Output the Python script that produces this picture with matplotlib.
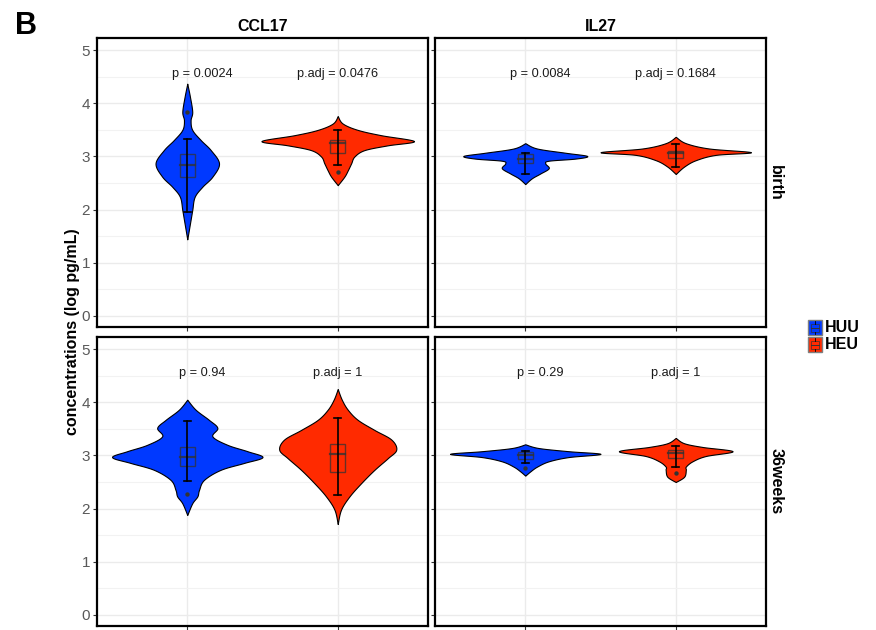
import numpy as np
import matplotlib
matplotlib.use("Agg")
import matplotlib.pyplot as plt
from matplotlib.patches import Rectangle

plt.rcParams["font.family"] = ["Liberation Sans", "DejaVu Sans"]

groups = ["HUU", "HEU"]
colors = {"HUU": "#0039FF", "HEU": "#FF2A00"}
analytes = ["CCL17", "IL27"]
timepoints = ["birth", "36weeks"]

# violin outlines: y (log pg/mL) and half-width (x units), bottom tip to top tip
violin_y = {
    ("CCL17", "birth", "HUU"): [1.44, 1.74, 1.99, 2.24, 2.43, 2.62, 2.87, 3.12, 3.31, 3.50, 3.68, 3.84, 4.12, 4.37],
    ("CCL17", "birth", "HEU"): [2.46, 2.62, 2.74, 2.87, 3.00, 3.12, 3.21, 3.29, 3.40, 3.50, 3.62, 3.76],
    ("IL27", "birth", "HUU"): [2.48, 2.59, 2.68, 2.78, 2.87, 2.92, 2.96, 3.01, 3.07, 3.15, 3.25],
    ("IL27", "birth", "HEU"): [2.67, 2.81, 2.93, 3.03, 3.08, 3.15, 3.25, 3.37],
    ("CCL17", "36weeks", "HUU"): [1.88, 2.10, 2.23, 2.35, 2.54, 2.73, 2.86, 2.97, 3.08, 3.20, 3.36, 3.52, 3.67, 3.86, 4.05],
    ("CCL17", "36weeks", "HEU"): [1.71, 1.98, 2.23, 2.48, 2.73, 2.95, 3.11, 3.30, 3.48, 3.67, 3.86, 4.05, 4.25],
    ("IL27", "36weeks", "HUU"): [2.62, 2.70, 2.79, 2.89, 2.97, 3.03, 3.08, 3.14, 3.21],
    ("IL27", "36weeks", "HEU"): [2.50, 2.60, 2.73, 2.79, 2.89, 2.99, 3.08, 3.16, 3.23, 3.33],
}
violin_w = {
    ("CCL17", "birth", "HUU"): [0.0, 0.018, 0.033, 0.049, 0.10, 0.167, 0.211, 0.156, 0.089, 0.033, 0.022, 0.033, 0.018, 0.0],
    ("CCL17", "birth", "HEU"): [0.0, 0.044, 0.067, 0.089, 0.111, 0.178, 0.333, 0.507, 0.289, 0.133, 0.033, 0.0],
    ("IL27", "birth", "HUU"): [0.0, 0.044, 0.10, 0.156, 0.133, 0.156, 0.333, 0.411, 0.267, 0.078, 0.0],
    ("IL27", "birth", "HEU"): [0.0, 0.056, 0.133, 0.267, 0.50, 0.222, 0.067, 0.0],
    ("CCL17", "36weeks", "HUU"): [0.0, 0.033, 0.067, 0.078, 0.111, 0.222, 0.378, 0.50, 0.40, 0.267, 0.167, 0.20, 0.144, 0.056, 0.0],
    ("CCL17", "36weeks", "HEU"): [0.0, 0.022, 0.078, 0.156, 0.244, 0.333, 0.389, 0.356, 0.244, 0.133, 0.067, 0.027, 0.0],
    ("IL27", "36weeks", "HUU"): [0.0, 0.033, 0.078, 0.156, 0.289, 0.50, 0.289, 0.089, 0.0],
    ("IL27", "36weeks", "HEU"): [0.0, 0.056, 0.067, 0.067, 0.111, 0.20, 0.378, 0.178, 0.056, 0.0],
}

# box summaries: lower whisker, q1, median, q3, upper whisker
box_stats = {
    ("CCL17", "birth", "HUU"): [1.96, 2.62, 2.84, 3.05, 3.33],
    ("CCL17", "birth", "HEU"): [2.84, 3.07, 3.26, 3.31, 3.50],
    ("IL27", "birth", "HUU"): [2.67, 2.87, 2.96, 3.04, 3.06],
    ("IL27", "birth", "HEU"): [2.81, 2.97, 3.06, 3.10, 3.23],
    ("CCL17", "36weeks", "HUU"): [2.52, 2.81, 2.98, 3.16, 3.65],
    ("CCL17", "36weeks", "HEU"): [2.25, 2.69, 3.03, 3.21, 3.70],
    ("IL27", "36weeks", "HUU"): [2.86, 2.93, 3.01, 3.06, 3.08],
    ("IL27", "36weeks", "HEU"): [2.79, 2.96, 3.05, 3.11, 3.17],
}
outliers = {
    ("CCL17", "birth", "HUU"): [3.84],
    ("CCL17", "birth", "HEU"): [2.71],
    ("CCL17", "36weeks", "HUU"): [2.27],
    ("IL27", "36weeks", "HUU"): [2.76],
    ("IL27", "36weeks", "HEU"): [2.67],
}

p_labels = {
    ("CCL17", "birth"): ["p = 0.0024", "p.adj = 0.0476"],
    ("IL27", "birth"): ["p = 0.0084", "p.adj = 0.1684"],
    ("CCL17", "36weeks"): ["p = 0.94", "p.adj = 1"],
    ("IL27", "36weeks"): ["p = 0.29", "p.adj = 1"],
}


def smooth_outline(y, w, n=12):
    # Catmull-Rom through the outline knots
    pts = np.column_stack([y, w])
    pts = np.vstack([pts[0], pts, pts[-1]])
    out = []
    for i in range(1, len(pts) - 2):
        p0, p1, p2, p3 = pts[i - 1], pts[i], pts[i + 1], pts[i + 2]
        t = np.linspace(0, 1, n, endpoint=False)[:, None]
        seg = 0.5 * ((2 * p1) + (-p0 + p2) * t + (2 * p0 - 5 * p1 + 4 * p2 - p3) * t ** 2
                     + (-p0 + 3 * p1 - 3 * p2 + p3) * t ** 3)
        out.append(seg)
    out.append(pts[-2][None, :])
    out = np.vstack(out)
    return out[:, 0], np.clip(out[:, 1], 0, None)


W, H = 876, 630
fig = plt.figure(figsize=(W / 100, H / 100), dpi=100)

col_x = [97, 435]
col_w = 331
row_y = [38, 337]
row_h = 289

for r, tp in enumerate(timepoints):
    for c, an in enumerate(analytes):
        ax = fig.add_axes([col_x[c] / W, 1 - (row_y[r] + row_h) / H, col_w / W, row_h / H])
        ax.set_xlim(0.4, 2.6)
        ax.set_ylim(-0.21, 5.23)
        ax.set_yticks(range(6))
        ax.set_yticks(np.arange(0.5, 5.5, 1.0), minor=True)
        ax.set_xticks([1, 2])
        ax.set_xticklabels([])
        ax.grid(which="major", color="#ebebeb", lw=1.0, zorder=0)
        ax.grid(which="minor", axis="y", color="#f2f2f2", lw=0.8, zorder=0)
        ax.set_axisbelow(True)
        ax.tick_params(axis="both", which="major", length=3, color="#333333",
                       labelsize=11, labelcolor="#595959", pad=2)
        ax.tick_params(which="minor", length=0)
        if c == 1:
            ax.set_yticklabels([])
        for s in ax.spines.values():
            s.set_linewidth(1.6)
            s.set_color("black")

        for i, g in enumerate(groups):
            key = (an, tp, g)
            x0 = i + 1
            yy, ww = smooth_outline(violin_y[key], violin_w[key])
            ax.fill_betweenx(yy, x0 - ww, x0 + ww, facecolor=colors[g],
                             edgecolor="black", lw=0.8, zorder=2)
            lo, q1, med, q3, hi = box_stats[key]
            ax.add_patch(Rectangle((x0 - 0.05, q1), 0.1, q3 - q1, facecolor="none",
                                   edgecolor="#333333", lw=1.0, alpha=0.75, zorder=3))
            ax.plot([x0 - 0.05, x0 + 0.05], [med, med], color="#333333", lw=1.6,
                    alpha=0.8, zorder=3)
            ax.plot([x0, x0], [lo, hi], color="black", lw=1.2, zorder=4)
            for v in (lo, hi):
                ax.plot([x0 - 0.022, x0 + 0.022], [v, v], color="black", lw=1.2, zorder=4)
            if key in outliers:
                ax.scatter([x0] * len(outliers[key]), outliers[key], s=10,
                           color="#333333", zorder=5, linewidths=0)

        lp, la = p_labels[(an, tp)]
        ax.text(1.1, 4.56, lp, ha="center", va="center", fontsize=9.2, color="#1a1a1a")
        ax.text(2.0, 4.56, la, ha="center", va="center", fontsize=9.2, color="#1a1a1a")

        if r == 0:
            ax.set_title(an, fontsize=11.5, fontweight="bold", pad=5)
        if c == 1:
            ax.text(1.03, 0.5, tp, transform=ax.transAxes, rotation=-90, ha="center",
                    va="center", fontsize=11.5, fontweight="bold")

fig.text(72 / W, 1 - 332 / H, "concentrations (log pg/mL)", rotation=90, ha="center",
         va="center", fontsize=11.5, fontweight="bold")
fig.text(26 / W, 1 - 26 / H, "B", ha="center", va="center", fontsize=22, fontweight="bold")

# legend keys drawn as small boxplot glyphs
leg = fig.add_axes([800 / W, 1 - 354 / H, 70 / W, 36 / H])
leg.set_xlim(0, 70)
leg.set_ylim(36, 0)
leg.axis("off")
for i, g in enumerate(groups):
    top = 2 + i * 17
    leg.add_patch(Rectangle((8, top), 14, 15, facecolor=colors[g], edgecolor="#7f7f7f", lw=1.0))
    leg.add_patch(Rectangle((11, top + 3.5), 8, 8, facecolor="none", edgecolor="#333333",
                            lw=0.6, alpha=0.8))
    leg.plot([11, 19], [top + 7.5, top + 7.5], color="#333333", lw=0.7)
    leg.plot([15, 15], [top + 1, top + 3.5], color="black", lw=0.6)
    leg.plot([15, 15], [top + 11.5, top + 14], color="black", lw=0.6)
    leg.text(25, top + 7.5, g, ha="left", va="center", fontsize=11.5, fontweight="bold")

fig.savefig("out.png", dpi=100)
